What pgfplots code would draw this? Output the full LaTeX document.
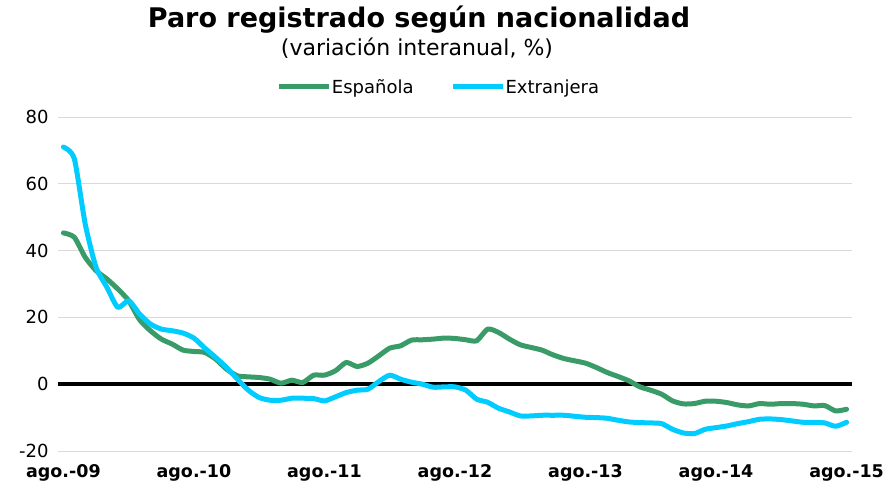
\documentclass[border=0pt]{standalone}
\usepackage{pgfplots}
\pgfplotsset{compat=1.18}
\usepackage{fontspec}
\setmainfont{DejaVu Sans}
\definecolor{espgreen}{RGB}{56,155,104}
\definecolor{extcyan}{RGB}{0,204,255}
\begin{document}
\begin{tikzpicture}
\useasboundingbox (-58bp,-37bp) rectangle (828bp,451bp);
\begin{axis}[
  scale only axis, width=794bp, height=334bp,
  at={(0,0)}, anchor=south west,
  xmin=-0.5, xmax=72.5, ymin=-20, ymax=80,
  xtick={0,12,24,36,48,60,72},
  xticklabels={ago.-09,ago.-10,ago.-11,ago.-12,ago.-13,ago.-14,ago.-15},
  ytick={-20,0,20,40,60,80},
  yticklabels={-20,0,20,40,60,80},
  xticklabel style={font=\fontsize{17.5bp}{20bp}\selectfont\bfseries, yshift=-10bp},
  yticklabel style={font=\fontsize{18bp}{20bp}\selectfont, xshift=-6bp},
  ymajorgrids, grid style={draw=black!15, line width=0.8bp},
  axis line style={draw=none}, tick style={draw=none},
  legend columns=2,
  legend style={draw=none, fill=none, at={(380bp,364bp)}, anchor=center,
    font=\fontsize{18bp}{20bp}\selectfont, nodes={inner xsep=0.5bp},
    /tikz/every even column/.append style={column sep=36bp}},
  legend image code/.code={\draw[#1, line cap=butt] (0bp,0bp) -- (50bp,0bp);},
  clip=false,
]
\addplot[black, line width=4bp, forget plot] coordinates {(-0.5,0) (72.5,0)};
\addplot[espgreen, line width=5bp, smooth, tension=0.4, line cap=round, line join=round] coordinates {
(0,45.3)(1,44)(2,38)(3,34)(4,31.5)(5,28.5)(6,25)(7,19.3)(8,16)(9,13.5)(10,12)(11,10.2)
(12,9.8)(13,9.5)(14,7.5)(15,4.5)(16,2.5)(17,2.2)(18,2)(19,1.5)(20,0.3)(21,1.2)(22,0.5)(23,2.7)
(24,2.7)(25,4)(26,6.5)(27,5.3)(28,6.3)(29,8.5)(30,10.8)(31,11.5)(32,13.2)(33,13.3)(34,13.5)(35,13.8)
(36,13.7)(37,13.3)(38,13)(39,16.5)(40,15.5)(41,13.5)(42,11.8)(43,11)(44,10.2)(45,8.8)(46,7.7)(47,7)
(48,6.3)(49,5)(50,3.5)(51,2.3)(52,1)(53,-0.8)(54,-1.8)(55,-3)(56,-5)(57,-5.9)(58,-5.8)(59,-5.1)
(60,-5.1)(61,-5.5)(62,-6.2)(63,-6.5)(64,-5.8)(65,-6)(66,-5.8)(67,-5.8)(68,-6)(69,-6.5)(70,-6.4)(71,-8)
(72,-7.5)};
\addlegendentry{Española}
\addplot[extcyan, line width=5bp, smooth, tension=0.4, line cap=round, line join=round] coordinates {
(0,71)(1,67.5)(2,48)(3,35)(4,29)(5,23)(6,25)(7,21)(8,18)(9,16.5)(10,16)(11,15.3)
(12,13.8)(13,10.8)(14,8)(15,5)(16,1.5)(17,-1.8)(18,-4)(19,-4.8)(20,-4.8)(21,-4.2)(22,-4.2)(23,-4.3)
(24,-5)(25,-3.8)(26,-2.5)(27,-1.8)(28,-1.5)(29,0.8)(30,2.7)(31,1.5)(32,0.6)(33,0)(34,-0.9)(35,-0.8)
(36,-0.8)(37,-1.8)(38,-4.5)(39,-5.4)(40,-7.2)(41,-8.3)(42,-9.5)(43,-9.5)(44,-9.3)(45,-9.3)(46,-9.3)(47,-9.6)
(48,-9.9)(49,-10)(50,-10.2)(51,-10.8)(52,-11.3)(53,-11.5)(54,-11.6)(55,-11.8)(56,-13.5)(57,-14.6)(58,-14.8)(59,-13.5)
(60,-13)(61,-12.5)(62,-11.8)(63,-11.2)(64,-10.5)(65,-10.4)(66,-10.6)(67,-11)(68,-11.4)(69,-11.4)(70,-11.6)(71,-12.6)
(72,-11.4)};
\addlegendentry{Extranjera}
\end{axis}
\node[font=\fontsize{27bp}{30bp}\selectfont\bfseries] at (361bp,431bp) {Paro registrado según nacionalidad};
\node[font=\fontsize{22bp}{25bp}\selectfont] at (359bp,403bp) {(variación interanual, \%)};
\end{tikzpicture}
\end{document}
